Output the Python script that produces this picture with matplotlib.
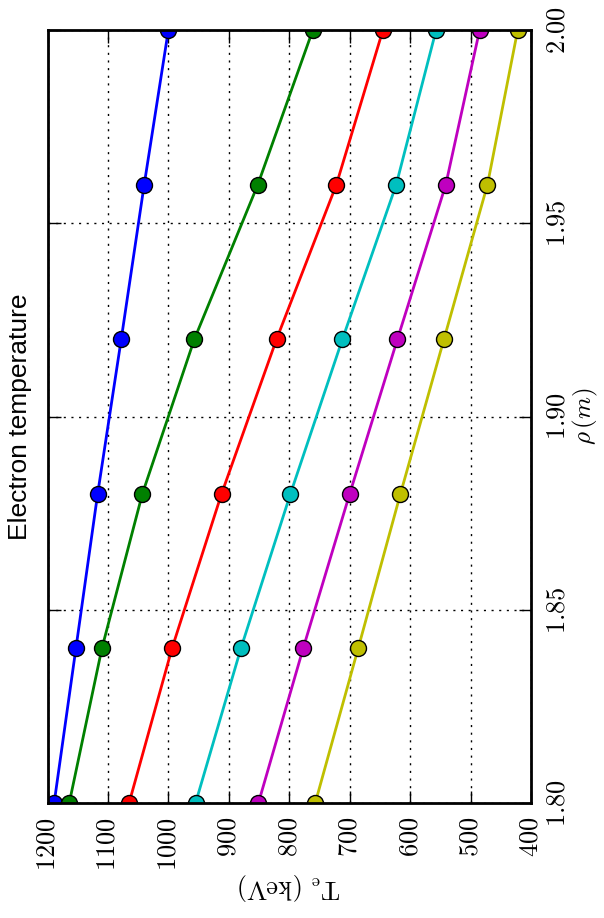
import matplotlib
matplotlib.use('Agg')
import matplotlib.pyplot as plt
from matplotlib.ticker import FixedLocator, FuncFormatter

# radial positions and electron temperature profiles (keV)
rho = [1.80, 1.84, 1.88, 1.92, 1.96, 2.00]
te_1 = [1189, 1153, 1117, 1078, 1040, 1000]
te_2 = [1164, 1110, 1043, 957, 852, 761]
te_3 = [1065, 994, 912, 821, 722, 645]
te_4 = [955, 880, 798, 712, 623, 557]
te_5 = [851, 777, 700, 621, 541, 485]
te_6 = [757, 686, 616, 544, 472, 422]
profiles = [te_1, te_2, te_3, te_4, te_5, te_6]
colors = ['b', 'g', 'r', 'c', 'm', 'y']

te_ticks = [1200, 1100, 1000, 900, 800, 700, 600, 500, 400]
rho_ticks = [1.80, 1.85, 1.90, 1.95, 2.00]

plt.rcParams['mathtext.fontset'] = 'cm'

W, H = 604, 918
fig = plt.figure(figsize=(W / 100, H / 100), dpi=100)
left, right, top, bottom = 47.5, 531, 30, 803
ax = fig.add_axes([left / W, 1 - bottom / H, (right - left) / W, (bottom - top) / H])

for te, c in zip(profiles, colors):
    ax.plot(te, rho, '-', color=c, lw=2, marker='o', ms=11.5,
            mec='k', mew=1, mfc=c)

ax.set_xlim(1200, 400)
ax.set_ylim(1.80, 2.00)

ax.xaxis.set_major_locator(FixedLocator(te_ticks))
ax.yaxis.set_major_locator(FixedLocator(rho_ticks))
ax.xaxis.set_major_formatter(FuncFormatter(lambda v, p: '$%d$' % v))
ax.yaxis.set_major_formatter(FuncFormatter(lambda v, p: '$%.2f$' % v))

ax.grid(True, color='k', linestyle=(0, (1.5, 4)), linewidth=1)
ax.tick_params(which='both', direction='in', length=9, width=1,
               top=True, bottom=True, left=True, right=True,
               labelleft=False, labelright=True, labelsize=19)
ax.tick_params(axis='x', labelrotation=90, pad=10)
ax.tick_params(axis='y', labelrotation=90, pad=10)
for lab in ax.get_yticklabels():
    lab.set_va('center')
    lab.set_ha('left')

for sp in ax.spines.values():
    sp.set_linewidth(2)

ax.yaxis.set_label_position('right')
ax.set_ylabel(r'$\rho\,(m)$', fontsize=18, rotation=90, labelpad=0)
ax.set_xlabel(r'$\mathrm{T_e\ (keV)}$', fontsize=19, rotation=180, labelpad=0)

fig.text(20 / W, 1 - 417 / H, 'Electron temperature', rotation=90,
         ha='center', va='center', fontsize=19, family='Liberation Sans')

fig.savefig('out.png', dpi=100)
